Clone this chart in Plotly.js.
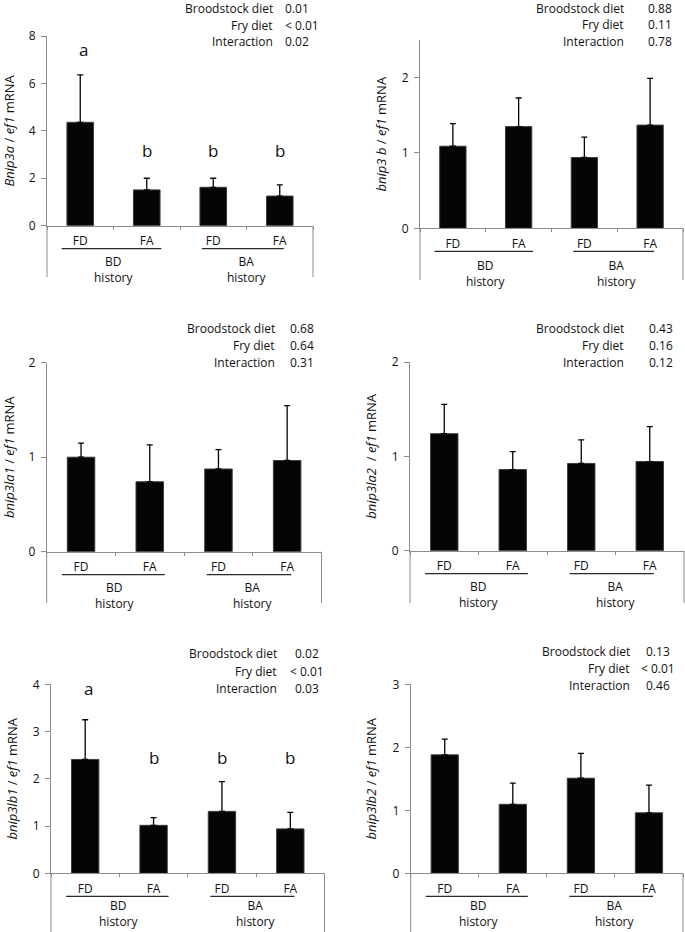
<!DOCTYPE html>
<html><head><meta charset="utf-8">
<script src="https://cdn.plot.ly/plotly-3.0.1.min.js"></script>
<style>body{margin:0;background:#fff}#chart{width:685px;height:932px}</style>
</head><body><div id="chart"></div>
<script>
// ---------------- DATA ----------------
const categories = ['BD-FD', 'BD-FA', 'BA-FD', 'BA-FA'];
const fryTickLabels = ['FD', 'FA', 'FD', 'FA'];
const historyLabels = ['BD<br>history', 'BA<br>history'];
const statLabels = ['Broodstock diet', 'Fry diet', 'Interaction'];

const geneTitles = [
  '<i>Bnip3a</i> / <i>ef1</i> mRNA',
  '<i>bnip3 b</i> / <i>ef1</i> mRNA',
  '<i>bnip3la1</i> / <i>ef1</i> mRNA',
  '<i>bnip3la2</i>  / <i>ef1</i> mRNA',
  '<i>bnip3lb1</i> / <i>ef1</i> mRNA',
  '<i>bnip3lb2</i> / <i>ef1</i> mRNA'
];

const bnip3a_mean   = [4.36, 1.51, 1.62, 1.25];
const bnip3a_err    = [2.00, 0.49, 0.38, 0.47];
const bnip3b_mean   = [1.09, 1.35, 0.94, 1.37];
const bnip3b_err    = [0.30, 0.38, 0.27, 0.62];
const bnip3la1_mean = [1.00, 0.74, 0.875, 0.965];
const bnip3la1_err  = [0.15, 0.39, 0.205, 0.58];
const bnip3la2_mean = [1.24, 0.86, 0.925, 0.945];
const bnip3la2_err  = [0.31, 0.19, 0.25, 0.37];
const bnip3lb1_mean = [2.41, 1.015, 1.31, 0.94];
const bnip3lb1_err  = [0.84, 0.165, 0.63, 0.35];
const bnip3lb2_mean = [1.88, 1.095, 1.51, 0.96];
const bnip3lb2_err  = [0.25, 0.335, 0.395, 0.44];

const bnip3a_p   = ['0.01', '< 0.01', '0.02'];
const bnip3b_p   = ['0.88', '0.11', '0.78'];
const bnip3la1_p = ['0.68', '0.64', '0.31'];
const bnip3la2_p = ['0.43', '0.16', '0.12'];
const bnip3lb1_p = ['0.02', '< 0.01', '0.03'];
const bnip3lb2_p = ['0.13', '< 0.01', '0.46'];

const bnip3a_sig   = ['a', 'b', 'b', 'b'];
const bnip3lb1_sig = ['a', 'b', 'b', 'b'];

const yTicks1 = [0, 2, 4, 6, 8];
const yTicks2 = [0, 1, 2];
const yTicks4 = [0, 1, 2, 3, 4];
const yTicks3 = [0, 1, 2, 3];

// --------------- LAYOUT CONFIG (pixels) ---------------
const W = 685, H = 932;
const panels = [
  {mean: bnip3a_mean, err: bnip3a_err, p: bnip3a_p, sig: bnip3a_sig, title: geneTitles[0], ticks: yTicks1, ymax: 8,
   l: 47, r: 313, t: 36, b: 225.7, bottom: 277, sigY: {a: 50, b: 150}, histDy: 44,
   statR: 275, statV: 283, statAnchor: 'left', statY0: 8.5, statDy: 16.7},
  {mean: bnip3b_mean, err: bnip3b_err, p: bnip3b_p, sig: null, title: geneTitles[1], ticks: yTicks2, ymax: 2.5,
   l: 420, r: 683, t: 40, b: 228.3, bottom: 280, histDy: 45,
   statR: 626, statV: 646, statAnchor: 'left', statY0: 8.5, statDy: 16.3},
  {mean: bnip3la1_mean, err: bnip3la1_err, p: bnip3la1_p, sig: null, title: geneTitles[2], ticks: yTicks2, ymax: 2,
   l: 46.7, r: 321.5, t: 362.7, b: 551.7, bottom: 603, histDy: 44,
   statR: 277, statV: 288, statAnchor: 'left', statY0: 328.3, statDy: 17.2},
  {mean: bnip3la2_mean, err: bnip3la2_err, p: bnip3la2_p, sig: null, title: geneTitles[3], ticks: yTicks2, ymax: 2,
   l: 410, r: 684, t: 362, b: 550.7, bottom: 603, histDy: 44,
   statR: 626, statV: 647, statAnchor: 'left', statY0: 328.3, statDy: 17},
  {mean: bnip3lb1_mean, err: bnip3lb1_err, p: bnip3lb1_p, sig: bnip3lb1_sig, title: geneTitles[4], ticks: yTicks4, ymax: 4,
   l: 51, r: 324.5, t: 684.3, b: 873.3, bottom: 932, sigY: {a: 688, b: 757.7}, histDy: 40.5,
   statR: 279.3, statV: 307, statAnchor: 'center', statY0: 653.3, statDy: 17.8},
  {mean: bnip3lb2_mean, err: bnip3lb2_err, p: bnip3lb2_p, sig: null, title: geneTitles[5], ticks: yTicks3, ymax: 3,
   l: 410.7, r: 683, t: 684.3, b: 873.3, bottom: 932, histDy: 40.5,
   statR: 631.7, statV: 657.7, statAnchor: 'center', statY0: 651, statDy: 17}
];

const FONT = '"Open Sans", Lato, sans-serif';
const FS = 12;
const AXIS_COLOR = '#8c8c8c';
const px = v => v / W;
const py = v => 1 - v / H;

const data = [];
const layout = {
  width: W, height: H,
  margin: {l: 0, r: 0, t: 0, b: 0},
  paper_bgcolor: '#fff', plot_bgcolor: '#fff',
  showlegend: false,
  font: {family: FONT, size: FS, color: '#111'},
  shapes: [], annotations: []
};

panels.forEach((P, i) => {
  const n = i + 1;
  const xa = 'x' + (n === 1 ? '' : n), ya = 'y' + (n === 1 ? '' : n);
  const xk = 'xaxis' + (n === 1 ? '' : n), yk = 'yaxis' + (n === 1 ? '' : n);
  data.push({
    type: 'bar', x: categories, y: P.mean, xaxis: xa, yaxis: ya, width: 0.4,
    marker: {color: '#050505', line: {color: '#3c3c3c', width: 1}},
    error_y: {type: 'data', symmetric: false, array: P.err, arrayminus: P.err.map(() => 0),
              color: '#000', thickness: 1.3, width: 3},
    hoverinfo: 'x+y'
  });
  layout[xk] = {
    domain: [px(P.l), px(P.r)], anchor: ya, type: 'category', range: [-0.5, 3.5],
    tickmode: 'array', tickvals: categories, ticktext: fryTickLabels,
    tickson: 'boundaries', ticks: 'outside', ticklen: 3, tickcolor: AXIS_COLOR,
    showline: true, linecolor: AXIS_COLOR, linewidth: 1, showgrid: false, zeroline: false,
    tickfont: {family: FONT, size: FS, color: '#111'}, ticklabelstandoff: 4, fixedrange: true
  };
  layout[yk] = {
    domain: [py(P.b), py(P.t)], anchor: xa, range: [0, P.ymax],
    tickmode: 'array', tickvals: P.ticks, ticks: 'outside', ticklen: 5, tickcolor: AXIS_COLOR,
    showline: true, linecolor: AXIS_COLOR, linewidth: 1, showgrid: false, zeroline: false,
    tickfont: {family: FONT, size: FS, color: '#111'}, ticklabelstandoff: 3,
    title: {text: P.title, font: {family: FONT, size: 13, color: '#111'}, standoff: 12},
    fixedrange: true
  };
  const catX = idx => px(P.l + (idx + 0.5) / 4 * (P.r - P.l));
  // vertical boundary lines below the axis
  layout.shapes.push({type: 'line', xref: 'paper', yref: 'paper', x0: px(P.l), x1: px(P.l), y0: py(P.b), y1: py(P.bottom), line: {color: AXIS_COLOR, width: 1}});
  layout.shapes.push({type: 'line', xref: 'paper', yref: 'paper', x0: px(P.r), x1: px(P.r), y0: py(P.b), y1: py(P.bottom), line: {color: AXIS_COLOR, width: 1}});
  // underlines for history groups
  [[-0.28, 1.22], [1.83, 3.06]].forEach(([a, c]) => {
    layout.shapes.push({type: 'line', xref: 'paper', yref: 'paper', x0: catX(a), x1: catX(c), y0: py(P.b + 23), y1: py(P.b + 23), line: {color: '#2a2a2a', width: 1.3}});
  });
  historyLabels.forEach((h, k) => {
    layout.annotations.push({xref: 'paper', yref: 'paper', x: catX(2 * k + 0.5), y: py(P.b + P.histDy), text: h,
      showarrow: false, xanchor: 'center', yanchor: 'middle', align: 'center', font: {family: FONT, size: FS, color: '#111'}});
  });
  // stats
  statLabels.forEach((s, k) => {
    const yy = py(P.statY0 + k * P.statDy);
    layout.annotations.push({xref: 'paper', yref: 'paper', x: px(P.statR), y: yy, text: s, showarrow: false,
      xanchor: 'right', yanchor: 'middle', font: {family: FONT, size: FS, color: '#111'}});
    layout.annotations.push({xref: 'paper', yref: 'paper', x: px(P.statV), y: yy, text: P.p[k], showarrow: false,
      xanchor: P.statAnchor, yanchor: 'middle', font: {family: FONT, size: FS, color: '#111'}});
  });
  // significance letters
  if (P.sig) {
    P.sig.forEach((lt, k) => {
      layout.annotations.push({xref: 'paper', yref: 'paper', x: catX(k) + (lt === 'a' ? px(3) : 0), y: py(P.sigY[lt]), text: lt,
        showarrow: false, xanchor: 'center', yanchor: 'middle', font: {family: FONT, size: 17, color: '#111'}});
    });
  }
});

Plotly.newPlot('chart', data, layout, {displayModeBar: false, staticPlot: true});
</script>
</body></html>
